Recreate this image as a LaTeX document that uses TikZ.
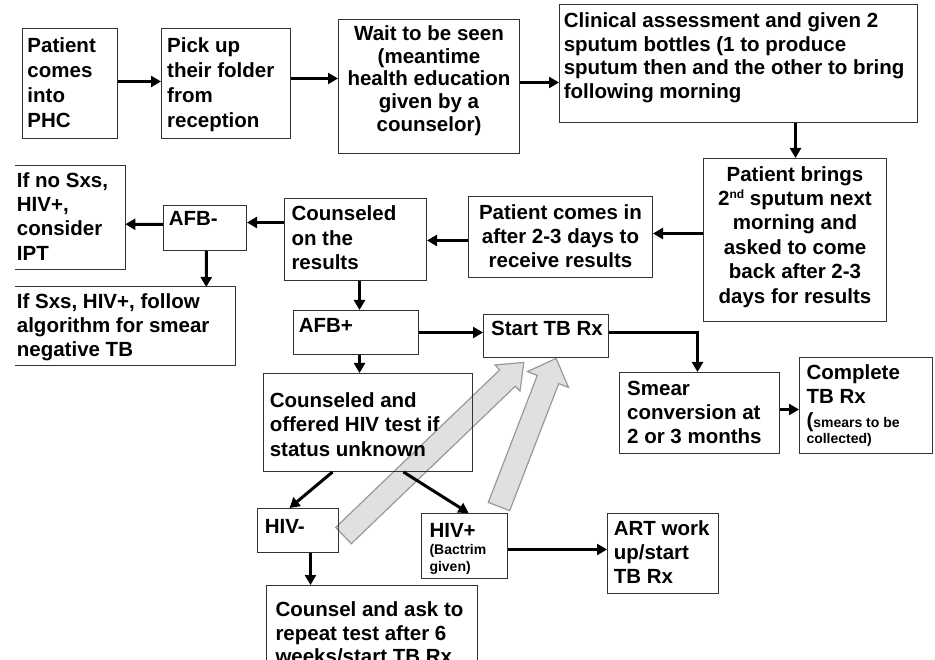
\documentclass[tikz,border=0pt]{standalone}
\usepackage{fontspec}
\setmainfont{Liberation Sans}
\usetikzlibrary{arrows.meta}
% #1 W #2 H #3 first baseline #4 left pad #5 baselineskip #6 text
\newcommand\bxl[6]{\parbox[t][#2][t]{#1}{\fontsize{20.5}{#5}\selectfont\raggedright\leftskip=#4\relax\rule{0pt}{#3}#6}}
% #1 W #2 H #3 first baseline #4 baselineskip #5 text
\newcommand\bxc[5]{\parbox[t][#2][t]{#1}{\fontsize{20.5}{#4}\selectfont\centering\rule{0pt}{#3}#5}}
\begin{document}
\begin{tikzpicture}[x=1pt,y=-1pt,
  box/.style={draw=black!80, line width=1pt, inner sep=0pt, anchor=north west, font=\bfseries},
  openbox/.style={inner sep=0pt, anchor=north west, font=\bfseries},
  boxline/.style={draw=black!80, line width=1pt},
  arr/.style={line width=3pt, line join=miter, -{Triangle[length=10pt,width=11pt]}},
  bigarr/.style={fill=black!12, draw=black!40, line width=1.2pt, line join=miter}]
\useasboundingbox (0,0) rectangle (935,660);
\fill[white] (0,0) rectangle (935,660);
\clip (0,0) rectangle (935,660);

% grey block arrows
\draw[bigarr] (351.3,543.7) -- (335.7,527.4) -- (499.7,369.9) -- (495.0,365.0) -- (523.8,362.4) -- (520.0,391.0) -- (515.3,386.2) -- cycle;
\draw[bigarr] (509.7,510.6) -- (488.3,502.4) -- (537.3,375.4) -- (527.5,371.6) -- (556.1,358.4) -- (568.5,387.4) -- (558.7,383.6) -- cycle;

% boxes
\node[box] (b1) at (22,28) {\bxl{95pt}{110pt}{23.7pt}{5pt}{25pt}{Patient\\comes\\into\\PHC}};
\node[box] (b2) at (161,28) {\bxl{129pt}{110pt}{23.7pt}{5.7pt}{25pt}{Pick up\\their folder\\from\\reception}};
\node[box] (b3) at (338,19) {\bxc{181pt}{134pt}{21pt}{22.7pt}{Wait to be seen\\(meantime\\health education\\given by a\\counselor)}};
\node[box] (b4) at (559,4) {\bxl{358pt}{118pt}{22.7pt}{4.3pt}{23.9pt}{Clinical assessment and given 2\\sputum bottles (1 to produce\\sputum then and the other to bring\\following morning}};
\node[box] (b5) at (703,158) {\bxc{183pt}{163pt}{22.7pt}{24.4pt}{Patient brings\\2\raisebox{7pt}{\fontsize{12}{12}\selectfont nd} sputum next\\morning and\\asked to come\\back after 2-3\\days for results}};
\node[box] (b6) at (468,196) {\bxc{184pt}{81pt}{23pt}{24.2pt}{Patient comes in\\after 2-3 days to\\receive results}};
\node[box] (b7) at (284,198) {\bxl{142pt}{82pt}{22pt}{7pt}{24.7pt}{Counseled\\on the\\results}};
\node[box] (afbm) at (163,205) {\bxl{83pt}{45pt}{20pt}{5.3pt}{24pt}{AFB-}};
\node[openbox] (ipt) at (15,166) {\bxl{110pt}{103pt}{21.3pt}{1.7pt}{24.2pt}{If no Sxs,\\HIV+,\\consider\\IPT}};
\draw[boxline] (ipt.north west) -- (ipt.north east) -- (ipt.south east) -- (ipt.south west);
\node[openbox] (sxs) at (15,287) {\bxl{220pt}{78pt}{21.3pt}{1.7pt}{24.2pt}{If Sxs, HIV+, follow\\algorithm for smear\\negative TB}};
\draw[boxline] (sxs.north west) -- (sxs.north east) -- (sxs.south east) -- (sxs.south west);
\node[box] (afbp) at (293,310) {\bxl{125pt}{44pt}{21.7pt}{5.3pt}{24pt}{AFB+}};
\node[box] (tbrx) at (483,314) {\bxl{125pt}{43pt}{21pt}{7.7pt}{24pt}{Start TB Rx}};
\node[box] (smear) at (619,372) {\bxl{160pt}{81pt}{23pt}{7.7pt}{24.2pt}{Smear\\conversion at\\2 or 3 months}};
\node[box] (complete) at (799,357) {\bxl{133pt}{96pt}{22.3pt}{7pt}{24pt}{Complete\\TB Rx\\(\fontsize{14}{24}\selectfont smears to be\\\fontsize{14}{16}\selectfont collected)}};
\node[box] (hivtest) at (263,373) {\bxl{209pt}{98pt}{34pt}{6.3pt}{24.5pt}{Counseled and\\offered HIV test if\\status unknown}};
\node[box] (hivm) at (257,508) {\bxl{81pt}{44pt}{25.3pt}{7.3pt}{24pt}{HIV-}};
\node[box] (hivp) at (421,513) {\bxl{86pt}{65pt}{23.7pt}{8pt}{17.6pt}{HIV+\\\fontsize{14}{17.6}\selectfont(Bactrim\\\fontsize{14}{16.4}\selectfont given)}};
\node[box] (art) at (607,513) {\bxl{111pt}{80pt}{22pt}{6.3pt}{24.2pt}{ART work\\up/start\\TB Rx}};
\node[box] (counsel) at (266,585) {\bxl{211pt}{100pt}{30.7pt}{9pt}{23.8pt}{Counsel and ask to\\repeat test after 6\\weeks/start TB Rx}};

% connectors
\draw[arr] ([yshift=2pt]b1.east) -- ([yshift=2pt]b2.west);
\draw[arr] ([yshift=5pt]b2.east) -- ([yshift=8pt]b3.west);
\draw[arr] ([yshift=4pt]b3.east) -- ([yshift=-19pt]b4.west);
\draw[arr] ([xshift=57pt]b4.south) -- ([xshift=0.5pt]b5.north);
\draw[arr] ([yshift=6.5pt]b5.west) -- ([yshift=3.5pt]b6.east);
\draw[arr] ([yshift=-3.5pt]b6.west) -- ([yshift=-1pt]b7.east);
\draw[arr] ([yshift=17pt]b7.west) -- ([yshift=5.5pt]afbm.east);
\draw[arr] ([yshift=3.5pt]afbm.west) -- ([yshift=-6.5pt]ipt.east);
\draw[arr] ([xshift=1.5pt]afbm.south) -- ([xshift=81pt]sxs.north);
\draw[arr] ([xshift=4pt]b7.south) -- ([xshift=3.5pt]afbp.north);
\draw[arr] (afbp.east) -- ([yshift=3.5pt]tbrx.west);
\draw[arr] ([yshift=3.5pt]tbrx.east) -| ([xshift=-2pt]smear.north);
\draw[arr] ([yshift=3.5pt]smear.east) -- ([yshift=-4pt]complete.west);
\draw[arr] ([xshift=3.5pt]afbp.south) -- ([xshift=-8.5pt]hivtest.north);
\draw[arr] ([xshift=-35.5pt]hivtest.south) -- ([xshift=-8.5pt]hivm.north);
\draw[arr] ([xshift=35.5pt]hivtest.south) -- ([xshift=4pt]hivp.north);
\draw[arr] ([yshift=-3.5pt]hivp.east) -- ([yshift=4pt]art.west);
\draw[arr] ([xshift=12.5pt]hivm.south) -- ([xshift=-61.5pt]counsel.north);
\end{tikzpicture}
\end{document}
